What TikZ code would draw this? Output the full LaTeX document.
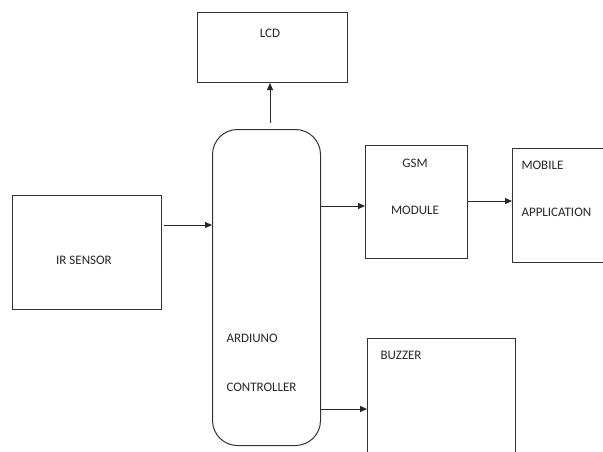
\documentclass[tikz,border=0pt]{standalone}
\usepackage{fontspec}
\setmainfont{Carlito}
\usetikzlibrary{arrows.meta, positioning}

\begin{document}
\begin{tikzpicture}[x=1pt, y=-1pt, line width=1pt,
    box/.style={draw=black!80, anchor=north west, inner sep=0pt},
    lbl/.style={inner sep=0pt, text=black!85, font=\fontsize{13}{15}\selectfont},
    arr/.style={draw=black!85, -{Triangle[length=7pt,width=6pt]}}]
    \useasboundingbox (0,0) rectangle (603,451);
    \clip (0,0) rectangle (603,451);
    % blocks
    \node[box, minimum width=150pt, minimum height=70pt] (lcd) at (197,12) {};
    \node[box, rounded corners=25pt, minimum width=108pt, minimum height=316pt] (ard) at (212,129) {};
    \node[box, minimum width=149pt, minimum height=114pt] (ir) at (12,195) {};
    \node[box, minimum width=102pt, minimum height=113pt] (gsm) at (365,145) {};
    \node[box, minimum width=120pt, minimum height=114pt] (mob) at (512,148) {};
    \node[box, minimum width=148pt, minimum height=140pt] (buz) at (367,338) {};
    % labels
    \node[lbl, anchor=base] (lcdtxt) at (270,37) {LCD};
    \node[lbl, anchor=base] (irtxt) at (84,264) {IR SENSOR};
    \node[lbl, anchor=base] (gsmtxt) at (415,167) {GSM};
    \node[lbl, anchor=base] (modtxt) at (415,214) {MODULE};
    \node[lbl, anchor=base west] (mobtxt) at (521,169) {MOBILE};
    \node[lbl, anchor=base west] (apptxt) at (521,216) {APPLICATION};
    \node[lbl, anchor=base west] (ardtxt) at (226,342) {ARDIUNO};
    \node[lbl, anchor=base west] (ctltxt) at (226,391) {CONTROLLER};
    \node[lbl, anchor=base west] (buztxt) at (380,359) {BUZZER};
    % links
    \draw[arr] (ard.north -| 270,0) ++(0,-6) -- (lcd.south -| 270,0);
    \draw[arr, shorten <=2pt] (ir.east |- 0,225) -- (ard.west |- 0,225);
    \draw[arr] (ard.east |- 0,206) -- (gsm.west |- 0,206);
    \draw[arr] (gsm.east |- 0,201) -- (mob.west |- 0,201);
    \draw[arr] (ard.east |- 0,409) -- (buz.west |- 0,409);
\end{tikzpicture}
\end{document}
